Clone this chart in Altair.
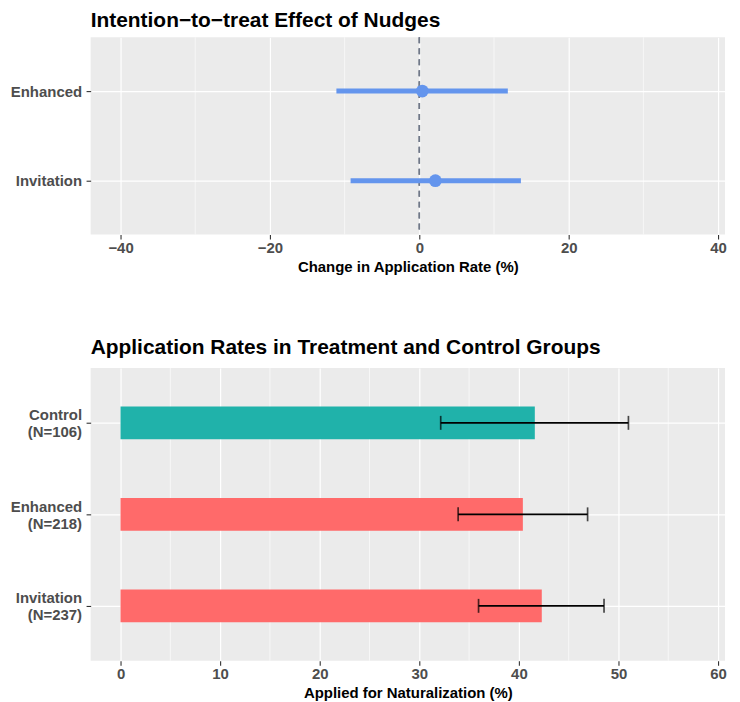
import altair as alt
import pandas as pd

# ---- data ----
itt_groups = ["Enhanced", "Invitation"]
itt_est = [0.4, 2.15]
itt_lo = [-11.1, -9.2]
itt_hi = [11.85, 13.6]

rate_groups = ["Control", "Enhanced", "Invitation"]
rate_n = [106, 218, 237]
rate_val = [41.6, 40.4, 42.3]
rate_lo = [32.15, 33.9, 35.95]
rate_hi = [51.0, 46.9, 48.55]
rate_type = ["control", "treatment", "treatment"]

top_ticks = [-40, -20, 0, 20, 40]
top_minor = [-30, -10, 10, 30]
bot_ticks = [0, 10, 20, 30, 40, 50, 60]
bot_minor = [5, 15, 25, 35, 45, 55]

FONT = "Liberation Sans"
BLUE = "#6495ED"

df_itt = pd.DataFrame({"group": itt_groups, "est": itt_est, "lo": itt_lo, "hi": itt_hi})
rate_labels = [f"{g}|(N={n})" for g, n in zip(rate_groups, rate_n)]
df_rate = pd.DataFrame({"label": rate_labels, "val": rate_val, "lo": rate_lo,
                        "hi": rate_hi, "type": rate_type})

# ---- top panel ----
x_top_scale = alt.Scale(domain=[-44, 40.93], nice=False, zero=False)
x_top_axis = alt.Axis(values=top_ticks, title="Change in Application Rate (%)",
                      labelPadding=1, titlePadding=4.5, labelFlush=False, labelOverlap=False)
y_top = alt.Y("group:N", sort=itt_groups,
              scale=alt.Scale(type="point", padding=0.6),
              axis=alt.Axis(title=None, labelPadding=4.5, minExtent=72, maxExtent=72))

minor_top = alt.Chart(pd.DataFrame({"v": top_minor})).mark_rule(
    color="white", strokeWidth=0.6).encode(
    x=alt.X("v:Q", scale=x_top_scale, axis=x_top_axis))

err_top = alt.Chart(df_itt).mark_rule(color=BLUE, strokeWidth=5).encode(
    x=alt.X("lo:Q", scale=x_top_scale, axis=x_top_axis),
    x2="hi:Q",
    y=y_top,
)
zero_line = alt.Chart(df_itt).mark_rule(
    color="#707888", strokeWidth=1.5, strokeDash=[6, 5]).encode(
    x=alt.X(datum=0, scale=x_top_scale, axis=x_top_axis))
pt_top = alt.Chart(df_itt).mark_point(filled=True, size=165, opacity=1, color=BLUE).encode(
    x=alt.X("est:Q", scale=x_top_scale, axis=x_top_axis), y=y_top)

top = alt.layer(minor_top, zero_line, err_top, pt_top).properties(
    width=637, height=198,
    title=alt.Title("Intention\u2212to\u2212treat Effect of Nudges", anchor="start",
                    frame="group", fontSize=21, fontWeight="bold", color="black",
                    font=FONT, offset=4, dy=-2),
)

# ---- bottom panel ----
x_bot_scale = alt.Scale(domain=[-3, 60.7], nice=False, zero=False)
x_bot_axis = alt.Axis(values=bot_ticks, title="Applied for Naturalization (%)",
                      labelPadding=1, titlePadding=4.5, labelFlush=False, labelOverlap=False)
y_bot = alt.Y("label:N", sort=rate_labels,
              scale=alt.Scale(type="point", padding=0.6),
              axis=alt.Axis(title=None, labelPadding=4.5, minExtent=72, maxExtent=72,
                            labelExpr="split(datum.label, '|')", labelLineHeight=17,
                            labelOffset=-8))

minor_bot = alt.Chart(pd.DataFrame({"v": bot_minor})).mark_rule(
    color="white", strokeWidth=0.6).encode(
    x=alt.X("v:Q", scale=x_bot_scale, axis=x_bot_axis))

bars = alt.Chart(df_rate).mark_bar(size=33).encode(
    x=alt.X("val:Q", scale=x_bot_scale, stack=None, axis=x_bot_axis),
    x2=alt.datum(0),
    y=y_bot,
    color=alt.Color("type:N", scale=alt.Scale(domain=["control", "treatment"],
                                              range=["#20B2AA", "#FF6A6A"]), legend=None),
)
err_bot = alt.Chart(df_rate).mark_rule(color="black", strokeWidth=1.7).encode(
    x=alt.X("lo:Q", scale=x_bot_scale, axis=x_bot_axis), x2="hi:Q", y=y_bot)
cap_lo = alt.Chart(df_rate).mark_tick(color="black", thickness=1.7, size=14).encode(
    x=alt.X("lo:Q", scale=x_bot_scale, axis=x_bot_axis), y=y_bot)
cap_hi = alt.Chart(df_rate).mark_tick(color="black", thickness=1.7, size=14).encode(
    x=alt.X("hi:Q", scale=x_bot_scale, axis=x_bot_axis), y=y_bot)

bottom = alt.layer(minor_bot, bars, err_bot, cap_lo, cap_hi).properties(
    width=637, height=294,
    title=alt.Title("Application Rates in Treatment and Control Groups", anchor="start",
                    frame="group", fontSize=21, fontWeight="bold", color="black",
                    font=FONT, offset=10),
)

chart = alt.vconcat(top, bottom, spacing=61).properties(
    padding={"left": 2, "top": 0, "right": 5, "bottom": 0},
    background="white",
).configure_view(
    fill="#EBEBEB", stroke=None
).configure_axis(
    labelFont=FONT, labelFontSize=15, labelFontWeight="bold", labelColor="#4D4D4D",
    titleFont=FONT, titleFontSize=15, titleFontWeight="bold", titleColor="black",
    tickColor="#333333", tickSize=4.6, tickWidth=1.1, domain=False,
    grid=True, gridColor="white", gridWidth=1.2,
).configure_concat(spacing=61)

chart.save("out.html", embed_options={"renderer": "svg", "actions": False})
